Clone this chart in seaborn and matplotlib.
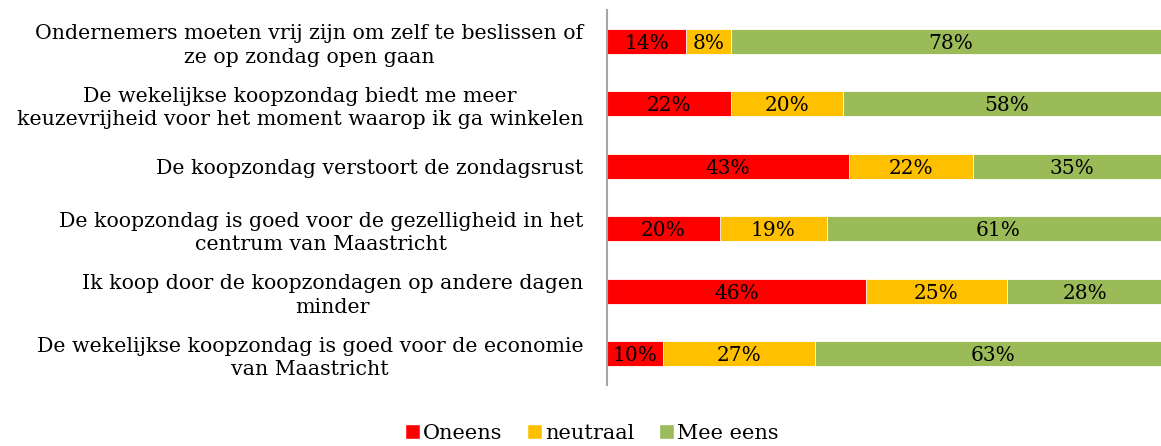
import pandas as pd
import matplotlib.pyplot as plt
import seaborn as sns
from matplotlib.patches import Patch

stellingen = [
    'Ondernemers moeten vrij zijn om zelf te beslissen of\nze op zondag open gaan',
    'De wekelijkse koopzondag biedt me meer\nkeuzevrijheid voor het moment waarop ik ga winkelen',
    'De koopzondag verstoort de zondagsrust',
    'De koopzondag is goed voor de gezelligheid in het\ncentrum van Maastricht',
    'Ik koop door de koopzondagen op andere dagen\nminder',
    'De wekelijkse koopzondag is goed voor de economie\nvan Maastricht',
]
oneens = [14, 22, 43, 20, 46, 10]
neutraal = [8, 20, 22, 19, 25, 27]
mee_eens = [78, 58, 35, 61, 28, 63]

reeksen = ['Oneens', 'neutraal', 'Mee eens']
kleuren = ['#FF0000', '#FFC000', '#9BBB59']

df = pd.DataFrame({'stelling': stellingen, 'Oneens': oneens,
                   'neutraal': neutraal, 'Mee eens': mee_eens})
# cumulative totals, drawn largest first so they stack visually
df['c1'] = df['Oneens']
df['c2'] = df['c1'] + df['neutraal']
df['c3'] = df['c2'] + df['Mee eens']

sns.set_style('white')
plt.rcParams['font.family'] = ['DejaVu Serif']
plt.rcParams['text.color'] = 'black'

fig = plt.figure(figsize=(11.61, 4.46), dpi=100)
ax = fig.add_axes([607 / 1161, 61 / 446, 563 / 1161, 375 / 446])

for col, kleur in zip(['c3', 'c2', 'c1'], kleuren[::-1]):
    sns.barplot(data=df, x=col, y='stelling', color=kleur, orient='h',
                width=0.4, edgecolor='white', linewidth=0.6, ax=ax,
                saturation=1)

# data labels in the middle of each segment
for i, row in df.iterrows():
    start = 0
    for s in reeksen:
        v = row[s]
        ax.text(start + v / 2, i + 0.03, f'{v}%', ha='center', va='center',
                fontsize=14.5, color='black')
        start += v

ax.set_xlim(0, 100)
ax.set_ylim(5.5, -0.5)
ax.set_xlabel('')
ax.set_ylabel('')
ax.set_xticks([])
ax.tick_params(axis='y', length=0, pad=17, labelcolor='black')
for lbl in ax.get_yticklabels():
    lbl.set_fontsize(14.8)
    lbl.set_multialignment('center')
    lbl.set_linespacing(1.3)
for side in ['top', 'right', 'bottom']:
    ax.spines[side].set_visible(False)
ax.spines['left'].set_color('#A6A6A6')
ax.spines['left'].set_linewidth(1.5)

handles = [Patch(facecolor=k, label=r) for k, r in zip(kleuren, reeksen)]
fig.legend(handles=handles, loc='lower center', bbox_to_anchor=(592 / 1161, -0.035),
           ncol=3, frameon=False, fontsize=15, handlelength=0.7, handleheight=0.7,
           handletextpad=0.15, columnspacing=1.2)

plt.savefig('out.png', dpi=100)
